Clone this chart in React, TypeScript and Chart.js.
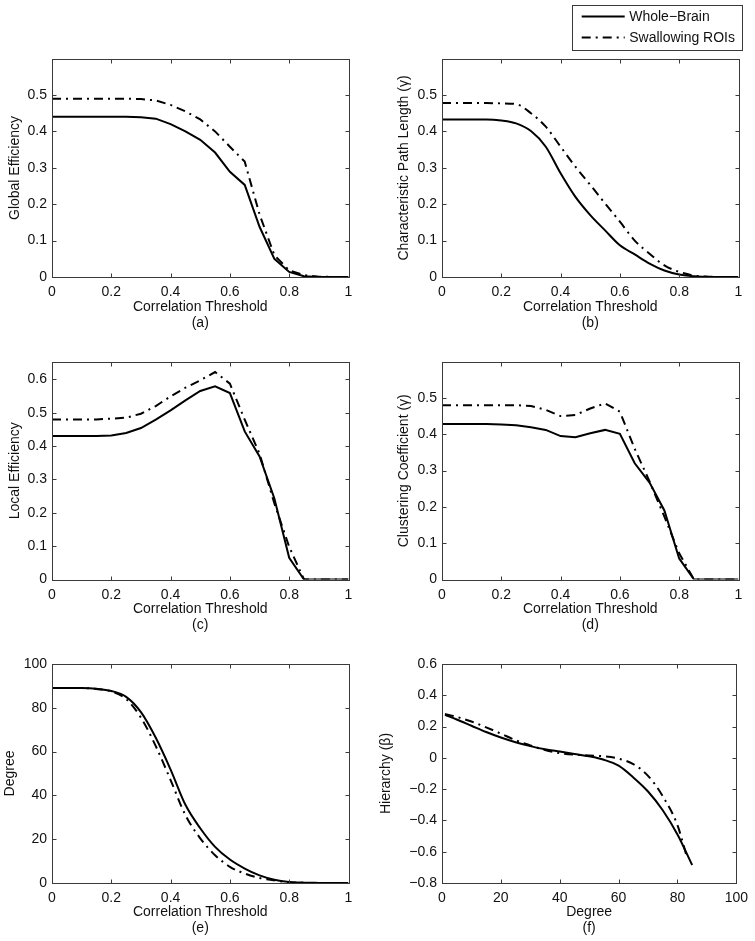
import React, { useEffect, useRef } from 'react';
import { Chart, registerables } from 'chart.js';

Chart.register(...registerables);

// ---------- data ----------
const seriesNames = ['Whole\u2212Brain', 'Swallowing ROIs'];

const thresholds = [0, 0.05, 0.1, 0.15, 0.2, 0.25, 0.3, 0.35, 0.4, 0.45, 0.5, 0.55, 0.6, 0.65, 0.7, 0.75, 0.8, 0.85, 0.9, 0.95, 1];

const globalEffWB = [0.44, 0.44, 0.44, 0.44, 0.44, 0.44, 0.439, 0.435, 0.42, 0.4, 0.377, 0.342, 0.289, 0.253, 0.138, 0.05, 0.014, 0.002, 0, 0, 0];
const globalEffSW = [0.49, 0.49, 0.49, 0.49, 0.49, 0.49, 0.489, 0.485, 0.473, 0.455, 0.433, 0.4, 0.358, 0.317, 0.172, 0.06, 0.018, 0.005, 0.001, 0, 0];

const pathLenWB = [0.433, 0.433, 0.433, 0.433, 0.43, 0.422, 0.401, 0.358, 0.285, 0.22, 0.17, 0.128, 0.087, 0.062, 0.037, 0.018, 0.007, 0.002, 0, 0, 0];
const pathLenSW = [0.478, 0.478, 0.478, 0.478, 0.477, 0.475, 0.45, 0.413, 0.358, 0.303, 0.253, 0.202, 0.152, 0.1, 0.064, 0.032, 0.014, 0.004, 0.001, 0, 0];

const localEffWB = [0.43, 0.43, 0.43, 0.43, 0.432, 0.439, 0.454, 0.479, 0.507, 0.537, 0.565, 0.579, 0.559, 0.444, 0.369, 0.243, 0.065, 0, 0, 0, 0];
const localEffSW = [0.48, 0.48, 0.48, 0.48, 0.482, 0.485, 0.497, 0.52, 0.549, 0.575, 0.597, 0.622, 0.587, 0.479, 0.377, 0.228, 0.098, 0, 0, 0, 0];

const clusterWB = [0.428, 0.428, 0.428, 0.428, 0.427, 0.425, 0.419, 0.412, 0.395, 0.392, 0.403, 0.412, 0.401, 0.32, 0.267, 0.19, 0.058, 0, 0, 0, 0];
const clusterSW = [0.48, 0.48, 0.48, 0.48, 0.48, 0.48, 0.478, 0.467, 0.45, 0.453, 0.471, 0.485, 0.462, 0.36, 0.27, 0.173, 0.072, 0, 0, 0, 0];

const degreeWB = [89, 89, 89, 88.7, 87.7, 85, 78, 66.3, 51.8, 35.7, 25, 16.5, 10.7, 6.6, 3.5, 1.5, 0.5, 0.15, 0.05, 0, 0];
const degreeSW = [89, 89, 89, 88.6, 87.5, 84, 75.5, 62.5, 47, 31, 20.4, 12.7, 7.4, 4.3, 2.3, 1.2, 0.4, 0.1, 0, 0, 0];

const hierDegWB = [1, 5, 10, 15, 20, 25, 30, 35, 40, 45, 50, 55, 60, 65, 70, 75, 80, 85];
const hierWB = [0.275, 0.245, 0.205, 0.165, 0.13, 0.1, 0.075, 0.055, 0.04, 0.025, 0.01, -0.012, -0.05, -0.125, -0.215, -0.335, -0.49, -0.685];
const hierDegSW = [1, 5, 10, 15, 20, 25, 30, 35, 40, 45, 50, 55, 60, 65, 70, 75, 80, 83];
const hierSW = [0.28, 0.262, 0.232, 0.195, 0.155, 0.113, 0.08, 0.05, 0.03, 0.02, 0.015, 0.01, -0.005, -0.04, -0.115, -0.245, -0.43, -0.62];

const thresholdTicks = [0, 0.2, 0.4, 0.6, 0.8, 1];
const degreeTicks = [0, 20, 40, 60, 80, 100];
const effTicks = [0, 0.1, 0.2, 0.3, 0.4, 0.5];
const localTicks = [0, 0.1, 0.2, 0.3, 0.4, 0.5, 0.6];
const hierTicks = [-0.8, -0.6, -0.4, -0.2, 0, 0.2, 0.4, 0.6];

// ---------- styling ----------
const FONT = '"Liberation Sans", Arial, Helvetica, sans-serif';
const TEXT = '#111111';
const FRAME = '#3a3a3a';
const DASHDOT = [9, 5, 2, 5];

const fmt = (v: number) => {
  const s = String(Math.round(v * 1000) / 1000);
  return s.replace('-', '\u2212');
};

const framePlugin = {
  id: 'matlabFrame',
  afterDraw(chart: any) {
    const { ctx, chartArea: a, scales } = chart;
    const L = Math.round(a.left) + 0.5;
    const R = Math.round(a.right) + 0.5;
    const T = Math.round(a.top) + 0.5;
    const B = Math.round(a.bottom) + 0.5;
    ctx.save();
    ctx.strokeStyle = FRAME;
    ctx.lineWidth = 1;
    ctx.strokeRect(L, T, R - L, B - T);
    const tl = 4;
    ctx.beginPath();
    scales.x.ticks.forEach((t: any) => {
      const px = Math.round(scales.x.getPixelForValue(t.value)) + 0.5;
      ctx.moveTo(px, B);
      ctx.lineTo(px, B - tl);
      ctx.moveTo(px, T);
      ctx.lineTo(px, T + tl);
    });
    scales.y.ticks.forEach((t: any) => {
      const py = Math.round(scales.y.getPixelForValue(t.value)) + 0.5;
      ctx.moveTo(L, py);
      ctx.lineTo(L + tl, py);
      ctx.moveTo(R, py);
      ctx.lineTo(R - tl, py);
    });
    ctx.stroke();
    ctx.restore();
  },
};

const legendPlugin = {
  id: 'matlabLegend',
  afterDraw(chart: any) {
    const opts = chart.options.plugins.matlabLegend;
    if (!opts || !opts.show) return;
    const { ctx } = chart;
    const [bx, by, bw, bh] = opts.box;
    ctx.save();
    ctx.fillStyle = '#ffffff';
    ctx.fillRect(bx, by, bw, bh);
    ctx.strokeStyle = FRAME;
    ctx.lineWidth = 1;
    ctx.strokeRect(Math.round(bx) + 0.5, Math.round(by) + 0.5, Math.round(bw), Math.round(bh));
    chart.data.datasets.forEach((ds: any, i: number) => {
      const cy = by + 11.5 + i * 21;
      ctx.beginPath();
      ctx.strokeStyle = ds.borderColor;
      ctx.lineWidth = ds.borderWidth;
      ctx.setLineDash(ds.borderDash || []);
      ctx.moveTo(bx + 10, cy);
      ctx.lineTo(bx + 53, cy);
      ctx.stroke();
      ctx.setLineDash([]);
      ctx.fillStyle = TEXT;
      ctx.font = `14px ${FONT}`;
      ctx.textBaseline = 'middle';
      ctx.textAlign = 'left';
      ctx.fillText(ds.label, bx + 57.5, cy + 0.5);
    });
    ctx.restore();
  },
};

type PanelSpec = {
  box: [number, number, number, number]; // canvas left, top, width, height
  area: [number, number, number, number]; // plot L, T, R, B (page coords)
  xs: [number[], number[]];
  ys: [number[], number[]];
  xMin: number;
  xMax: number;
  yMin: number;
  yMax: number;
  xTicks: number[];
  yTicks: number[];
  xTitle: string[];
  yTitle: string;
  yTitlePad: number;
  smooth: boolean;
  legend?: boolean;
};

const panels: PanelSpec[] = [
  {
    box: [0, 0, 377, 331], area: [52, 59, 348.5, 277],
    xs: [thresholds, thresholds], ys: [globalEffWB, globalEffSW],
    xMin: 0, xMax: 1, yMin: 0, yMax: 0.599, xTicks: thresholdTicks, yTicks: effTicks,
    xTitle: ['Correlation Threshold', '(a)'], yTitle: 'Global Efficiency', yTitlePad: 7, smooth: false,
  },
  {
    box: [377, 0, 378, 331], area: [442, 59, 738.5, 277],
    xs: [thresholds, thresholds], ys: [pathLenWB, pathLenSW],
    xMin: 0, xMax: 1, yMin: 0, yMax: 0.599, xTicks: thresholdTicks, yTicks: effTicks,
    xTitle: ['Correlation Threshold', '(b)'], yTitle: 'Characteristic Path Length (\u03b3)', yTitlePad: 19, smooth: true,
    legend: true,
  },
  {
    box: [0, 335, 377, 298], area: [52, 362, 348.5, 579.5],
    xs: [thresholds, thresholds], ys: [localEffWB, localEffSW],
    xMin: 0, xMax: 1, yMin: 0, yMax: 0.652, xTicks: thresholdTicks, yTicks: localTicks,
    xTitle: ['Correlation Threshold', '(c)'], yTitle: 'Local Efficiency', yTitlePad: 7, smooth: false,
  },
  {
    box: [377, 335, 378, 298], area: [442, 362, 738.5, 579.5],
    xs: [thresholds, thresholds], ys: [clusterWB, clusterSW],
    xMin: 0, xMax: 1, yMin: 0, yMax: 0.599, xTicks: thresholdTicks, yTicks: effTicks,
    xTitle: ['Correlation Threshold', '(d)'], yTitle: 'Clustering Coefficient (\u03b3)', yTitlePad: 19, smooth: false,
  },
  {
    box: [0, 640, 377, 296], area: [52, 664, 348.5, 883],
    xs: [thresholds, thresholds], ys: [degreeWB, degreeSW],
    xMin: 0, xMax: 1, yMin: 0, yMax: 100, xTicks: thresholdTicks, yTicks: degreeTicks,
    xTitle: ['Correlation Threshold', '(e)'], yTitle: 'Degree', yTitlePad: 2, smooth: true,
  },
  {
    box: [377, 640, 378, 296], area: [442, 664, 738.5, 883],
    xs: [hierDegWB, hierDegSW], ys: [hierWB, hierSW],
    xMin: 0, xMax: 100, yMin: -0.8, yMax: 0.6, xTicks: degreeTicks, yTicks: hierTicks,
    xTitle: ['Degree', '(f)'], yTitle: 'Hierarchy (\u03b2)', yTitlePad: 1, smooth: true,
  },
];

function Panel({ spec }: { spec: PanelSpec }) {
  const ref = useRef<HTMLCanvasElement>(null);
  useEffect(() => {
    const [cl, ct, cw, ch] = spec.box;
    const [L, T, R, B] = spec.area;
    const styles = [
      { borderDash: [] as number[] },
      { borderDash: DASHDOT },
    ];
    const datasets = spec.ys.map((vals, si) => ({
      label: seriesNames[si],
      data: vals.map((y, i) => ({ x: spec.xs[si][i], y })),
      borderColor: '#000000',
      backgroundColor: '#000000',
      borderWidth: 2,
      borderDash: styles[si].borderDash,
      pointRadius: 0,
      fill: false,
      cubicInterpolationMode: spec.smooth ? ('monotone' as const) : ('default' as const),
      tension: 0,
    }));
    const titleFont = { family: FONT, size: 14, lineHeight: 16 / 14 };
    const chart = new Chart(ref.current as HTMLCanvasElement, {
      type: 'line',
      data: { datasets },
      plugins: [framePlugin, legendPlugin],
      options: {
        animation: false,
        responsive: false,
        devicePixelRatio: 1,
        layout: { padding: { left: 0, top: T - ct, right: cl + cw - R, bottom: 0 } },
        plugins: {
          legend: { display: false },
          tooltip: { enabled: false },
          // @ts-ignore
          matlabLegend: { show: !!spec.legend, box: [194.7, 5, 169.5, 45] },
        },
        scales: {
          x: {
            type: 'linear',
            min: spec.xMin,
            max: spec.xMax,
            grid: { display: false, drawTicks: false },
            border: { display: false },
            afterFit: (s: any) => { s.height = ct + ch - B; },
            afterBuildTicks: (s: any) => { s.ticks = spec.xTicks.map((v) => ({ value: v })); },
            ticks: {
              autoSkip: false,
              maxRotation: 0,
              padding: 7,
              color: TEXT,
              font: { family: FONT, size: 14 },
              callback: (v: any) => fmt(Number(v)),
            },
            title: {
              display: true,
              text: spec.xTitle,
              color: TEXT,
              font: titleFont,
              padding: { top: 0, bottom: 0 },
            },
          },
          y: {
            type: 'linear',
            min: spec.yMin,
            max: spec.yMax,
            grid: { display: false, drawTicks: false },
            border: { display: false },
            afterFit: (s: any) => { s.width = L - cl; },
            afterBuildTicks: (s: any) => { s.ticks = spec.yTicks.map((v) => ({ value: v })); },
            ticks: {
              autoSkip: false,
              padding: 5,
              color: TEXT,
              font: { family: FONT, size: 14 },
              callback: (v: any) => fmt(Number(v)),
            },
            title: {
              display: true,
              text: spec.yTitle,
              color: TEXT,
              font: titleFont,
              padding: { top: spec.yTitlePad, bottom: 0 },
            },
          },
        },
      } as any,
    });
    return () => chart.destroy();
  }, [spec]);
  const [cl, ct, cw, ch] = spec.box;
  return (
    <canvas
      ref={ref}
      width={cw}
      height={ch}
      style={{ position: 'absolute', left: cl, top: ct, width: cw, height: ch }}
    />
  );
}

export default function App() {
  return (
    <div style={{ position: 'absolute', left: 0, top: 0, width: 755, height: 941, background: '#ffffff' }}>
      {panels.map((p, i) => (
        <Panel key={i} spec={p} />
      ))}
    </div>
  );
}
